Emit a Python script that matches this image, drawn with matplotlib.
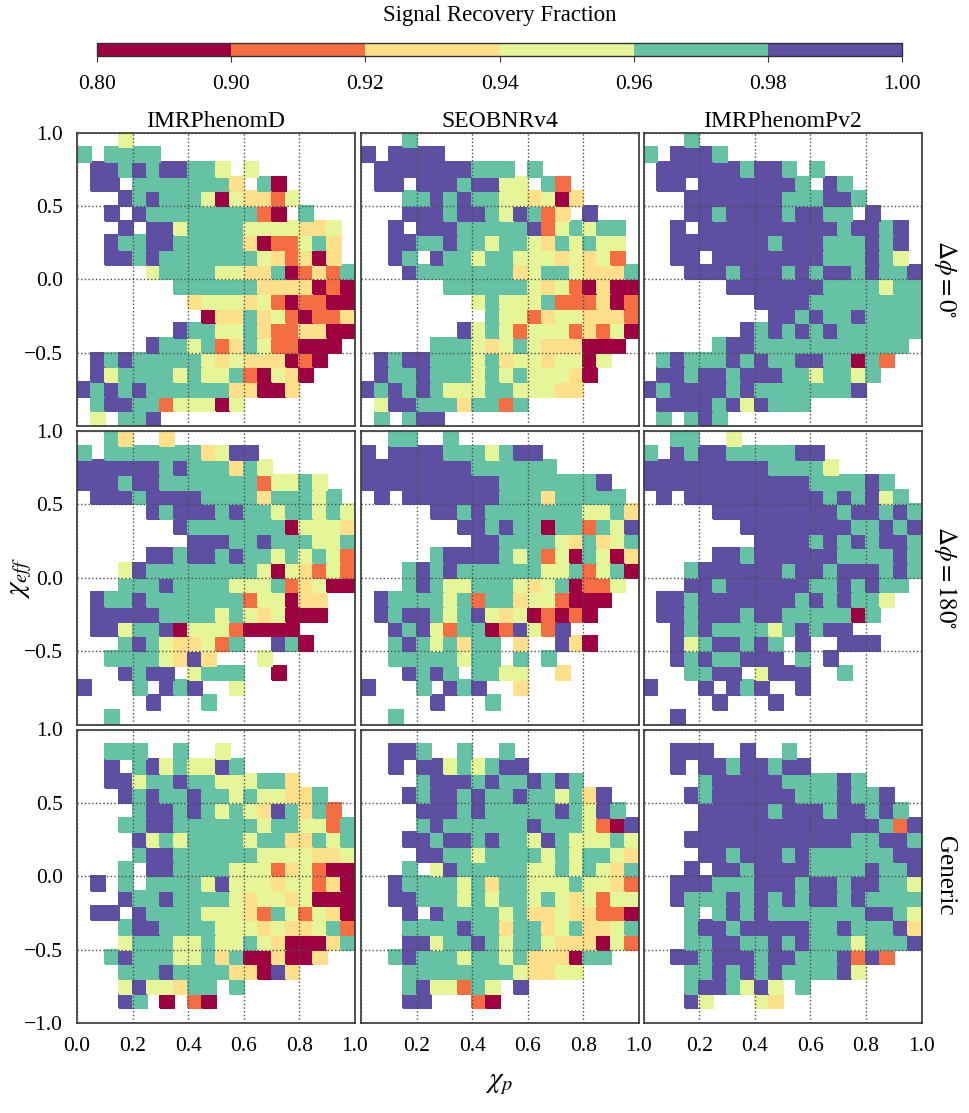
import numpy as np
import matplotlib
matplotlib.use('Agg')
import matplotlib.pyplot as plt
from matplotlib.colors import ListedColormap, BoundaryNorm

plt.rcParams['font.family'] = ['Liberation Serif', 'DejaVu Serif']
plt.rcParams['mathtext.fontset'] = 'stix'

# colour bins of the recovery fraction
bounds = [0.80, 0.90, 0.92, 0.94, 0.96, 0.98, 1.00]
bin_colors = ['#9e0142', '#f46d43', '#fee08b', '#e6f598', '#66c2a5', '#5e4fa2']
# cell codes '1'..'6' -> fraction value inside each bin, '.' = no injection
code_values = {'1': 0.85, '2': 0.91, '3': 0.93, '4': 0.95, '5': 0.97, '6': 0.99}

models = ['IMRPhenomD', 'SEOBNRv4', 'IMRPhenomPv2']
row_labels = [r'$\Delta\phi = 0^{\circ}$', r'$\Delta\phi = 180^{\circ}$', 'Generic']

# grids: 20 chi_p bins (0..1) x 20 chi_eff bins, first string = top row (0.9..1.0)
imrd_dphi0 = [
    "...4................",
    "5.5555..............",
    ".6656566554.4.......",
    ".66.55555553.51.....",
    "...6565554143324....",
    "..6.65555555521.5...",
    "...6.66455554444334.",
    "..65566555553122453.",
    "..66565555555432313.",
    ".....455554433512325",
    ".......5555553333121",
    "........344434212211",
    ".........13353421223",
    ".......6554453223311",
    ".....65545235422111.",
    ".65655555434333121..",
    ".6455554544521431...",
    "6565655555533113....",
    ".56655244414........",
    ".4.556..............",
]
seob_dphi0 = [
    "...5................",
    "6.6666..............",
    ".6666666555.5.......",
    ".66.66656644.52.....",
    "...5565655443413....",
    "...666566546523.6...",
    "..6.666555556245455.",
    "..66556554554354544.",
    "..65.65545544434342.",
    "...65555555345543335",
    "......55555543421311",
    "........454445222312",
    ".........54423443332",
    ".......6454244423241",
    ".....55543454333111.",
    ".65665554534434414..",
    ".6556555454544431...",
    "6565654445544433....",
    ".46655535525........",
    ".5.566..............",
]
pv2_dphi0 = [
    "...5................",
    "5.6665..............",
    ".6666665665.5.......",
    ".66.66666665.65.....",
    "...6666666555665....",
    "...665666656655.6...",
    "..6.666666666656656.",
    "..66666665666555656.",
    "..66.66666666555654.",
    "...66656665656656556",
    "......66666665555455",
    "........666655555555",
    ".........66565565555",
    ".......6565656555555",
    ".....56655555555555.",
    ".56555656556655152..",
    ".6656656665545545...",
    "6566665655555556....",
    ".66665646555........",
    ".5.565..............",
]
imrd_dphi180 = [
    "..53..3.............",
    "5.55555553466.......",
    "66666656555354......",
    "666566555555524454..",
    ".666566665555355545.",
    ".....656665655455454",
    ".......6555555514443",
    "........666556555445",
    ".....665665655454542",
    "...46555555554143242",
    "...55565555444523411",
    ".65565555555244133..",
    ".66666555545434111..",
    ".664556144421111....",
    "...565433425..651...",
    "..55554363...4......",
    "...6566.4555..1.....",
    "6...5.656..4........",
    ".....6...5..........",
    "..5.................",
]
seob_dphi180 = [
    "..55..5.............",
    "6.66665554566.......",
    "66666666555555......",
    "666666666655555556..",
    ".6.6666666555355555.",
    ".....665655555554453",
    ".......6656551552546",
    "........665555435345",
    ".....566665452415413",
    "...56565555554452451",
    "...5654455543451224.",
    ".65555452553442111..",
    ".6566545643412121...",
    "..6564255126426.....",
    "..56545355.3..631...",
    "..55555455.5.5......",
    "...6565.5544..3.....",
    "6...5.656..3........",
    ".....6...5..........",
    "..5.................",
]
pv2_dphi180 = [
    "..55..4.............",
    "5.65665555566.......",
    "66666666655554......",
    "666666666666555565..",
    ".6.6666666666565645.",
    ".....666666666566565",
    ".......6666666655656",
    "........666656565665",
    ".....665666666555565",
    "...56666665665666565",
    "...6656666665565655.",
    ".66566666665656554..",
    ".6656665665555515...",
    "..6565555456566.....",
    "..64566565.6..666...",
    "..65655666.5.6......",
    "...5566.4666..5.....",
    "6...6.656..6........",
    ".....6...6..........",
    "..6.................",
]
imrd_generic = [
    "....................",
    "..555..5..4.........",
    "..6.56454465........",
    "..66455655444553....",
    "...656556554544335..",
    "....566565454365352.",
    "...55665555554554425",
    "....6454555545533545",
    "....5665555554444334",
    "...5.665555444234211",
    ".6.5.555546444344231",
    "...65565555434434111",
    ".66.6555544432542431",
    "...56655554443433452",
    "...45554454454311135",
    "..5655544535113113..",
    "...5556555533163....",
    "...4644355.5........",
    "...65.1.21..........",
    "....................",
]
seob_generic = [
    "....................",
    "..665..5..5.........",
    "..6.66454566........",
    "....566656556565....",
    "...656656556554536..",
    "....666565555565465.",
    "....5655555565554216",
    "...66566565546544454",
    "....6655455554545543",
    "...5.465555544545435",
    "..655554535544454432",
    "..665554545545434244",
    "...6.655554533433221",
    "...55556553553453345",
    "...66455654554333142",
    "..5655545545333155..",
    "...5555555543344....",
    "...5644254.6........",
    "...66...21..........",
    "....................",
]
pv2_generic = [
    "....................",
    "..666..6..5.........",
    "..6.66566566........",
    "....566666555565....",
    "...656666665556556..",
    "....666665666566565.",
    "....6666666666666526",
    "...66666666666655665",
    "....6656665655555566",
    "...6.665666655556556",
    "..666555666566566554",
    "..655565656566565555",
    "...5.565655555556654",
    "...56656666655655563",
    "...55665565655545556",
    "..6656665665556262..",
    "...5565656555564....",
    "...5665464.5........",
    "...64...43..........",
    "....................",
]

panels = [
    [imrd_dphi0, seob_dphi0, pv2_dphi0],
    [imrd_dphi180, seob_dphi180, pv2_dphi180],
    [imrd_generic, seob_generic, pv2_generic],
]


def to_array(rows):
    grid = np.full((20, 20), np.nan)
    for i, line in enumerate(rows):
        assert len(line) == 20, (i, line)
        for j, c in enumerate(line):
            if c in code_values:
                grid[19 - i, j] = code_values[c]
    return np.ma.masked_invalid(grid)


cmap = ListedColormap(bin_colors)
norm = BoundaryNorm(bounds, cmap.N)
x_edges = np.linspace(0, 1, 21)
y_edges = np.linspace(-1, 1, 21)

fig = plt.figure(figsize=(9.69, 11.13), dpi=100)
W, H = 969.0, 1113.0
lefts = [77 / W, 361 / W, 643.5 / W]
bottoms = [1 - 426 / H, 1 - 724.5 / H, 1 - 1023 / H]
aw, ah = 278 / W, 293.5 / H

for r in range(3):
    for c in range(3):
        ax = fig.add_axes([lefts[c], bottoms[r], aw, ah])
        ax.pcolormesh(x_edges, y_edges, to_array(panels[r][c]), cmap=cmap, norm=norm,
                      edgecolors='face', linewidth=0.3)
        ax.set_xlim(0, 1)
        ax.set_ylim(-1, 1)
        ax.set_xticks([0.0, 0.2, 0.4, 0.6, 0.8, 1.0])
        ax.set_yticks([-1.0, -0.5, 0.0, 0.5, 1.0])
        ax.grid(True, linestyle=':', color='0.3', linewidth=1.0)
        ax.set_axisbelow(False)
        ax.tick_params(length=0, labelsize=15.5, pad=10)
        for s in ax.spines.values():
            s.set_color('0.2')
            s.set_linewidth(1.2)
        if r == 2:
            xl = ['0.0', '0.2', '0.4', '0.6', '0.8', '1.0']
            if c > 0:
                xl[0] = ''
            ax.set_xticklabels(xl)
        else:
            ax.set_xticklabels([])
        if c == 0:
            yl = ['\u22121.0', '\u22120.5', '0.0', '0.5', '1.0']
            if r < 2:
                yl[0] = ''
            ax.set_yticklabels(yl)
        else:
            ax.set_yticklabels([])
        if r == 0:
            ax.set_title(models[c], fontsize=17, pad=4)
    fig.text(945 / W, bottoms[r] + ah / 2, row_labels[r], rotation=270,
             ha='center', va='center', fontsize=18)

fig.text(499 / W, 1 - 1084 / H, r'$\chi_p$', ha='center', va='center', fontsize=21)
fig.text(21 / W, 1 - 578 / H, r'$\chi_{eff}$', ha='center', va='center',
         rotation=90, fontsize=21)

# colour bar on top
cax = fig.add_axes([97 / W, 1 - 55.5 / H, 805 / W, 12.5 / H])
cb = fig.colorbar(plt.cm.ScalarMappable(norm=norm, cmap=cmap), cax=cax,
                  orientation='horizontal', ticks=bounds, spacing='uniform')
cb.ax.set_xticklabels(['%.2f' % b for b in bounds])
cb.ax.tick_params(labelsize=15.5, length=4, pad=10, color='0.2')
cb.outline.set_edgecolor('0.2')
cb.outline.set_linewidth(1.0)
fig.text(499.5 / W, 1 - 16 / H, 'Signal Recovery Fraction', ha='center', va='center',
         fontsize=16.5)

fig.savefig('out.png', dpi=100)
